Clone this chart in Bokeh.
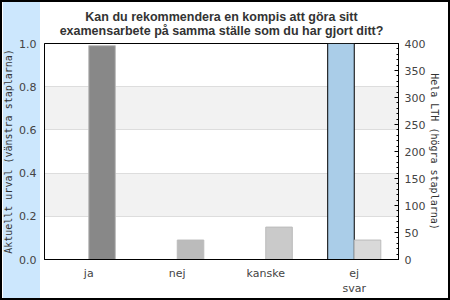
from bokeh.plotting import figure
from bokeh.models import (ColumnDataSource, FactorRange, Range1d, LinearAxis,
                          SingleIntervalTicker, PrintfTickFormatter)
from bokeh.transform import dodge
from bokeh.embed import file_html
from bokeh.resources import INLINE

# ---- data ----
categories = ["ja", "nej", "kanske", "ej\nsvar"]
aktuellt_urval = [0.0, 0.0, 0.0, 1.0]      # left axis (share)
hela_lth = [396, 36, 60, 36]               # right axis (count)
hela_colors = ["#888888", "#bbbbbb", "#cacaca", "#d9d9d9"]

title_lines = ["Kan du rekommendera en kompis att göra sitt",
               "examensarbete på samma ställe som du har gjort ditt?"]
left_label = "Aktuellt urval (vänstra staplarna)"
right_label = "Hela LTH (högra staplarna)"

src = ColumnDataSource(dict(cat=categories, akt=aktuellt_urval,
                            hela=hela_lth, col=hela_colors))

p = figure(width=450, height=300, output_backend="svg", toolbar_location=None,
           x_range=FactorRange(*categories, range_padding=0),
           y_range=Range1d(0, 1),
           min_border_left=40, min_border_right=52,
           min_border_top=43, min_border_bottom=41)
p.extra_y_ranges = {"right": Range1d(0, 400)}

p.border_fill_color = None
p.background_fill_color = "white"
p.outline_line_color = "black"
p.outline_line_width = 1
p.styles = {
    "background": "linear-gradient(to right, #ffffff 0px, #ffffff 3px, #cce7fd 3px, #cce7fd 40px, #ffffff 40px)",
    "box-shadow": "inset 0 0 0 2px black",
}

p.title.text = "\n".join(title_lines)
p.title.align = "center"
p.title.text_align = "center"
p.title.offset = 5
p.title.text_font = "Liberation Sans"
p.title.text_font_size = "12.5px"
p.title.text_font_style = "bold"
p.title.text_color = "#333333"
p.title.standoff = 12

# bars
p.vbar(x=dodge("cat", -0.15, range=p.x_range), top="akt", width=0.3, source=src,
       fill_color="#aacde8", line_color="black", line_width=1)
p.vbar(x=dodge("cat", 0.15, range=p.x_range), top="hela", width=0.3, source=src,
       fill_color="col", line_color="#bbbbbb", line_width=1, y_range_name="right")

# grid
p.xgrid.visible = False
p.ygrid.grid_line_color = "#dddddd"
p.ygrid.band_fill_color = "#f2f2f2"
p.ygrid.band_fill_alpha = 1.0

# left axis
ly = p.yaxis[0]
ly.ticker = SingleIntervalTicker(interval=0.2, num_minor_ticks=0)
ly.formatter = PrintfTickFormatter(format="%.1f")
ly.major_tick_in = 0
ly.major_tick_out = 0
ly.minor_tick_in = 0
ly.minor_tick_out = 0
ly.major_label_standoff = 8
ly.major_label_text_font = "DejaVu Sans"
ly.major_label_text_font_size = "11px"
ly.major_label_text_color = "#444444"
ly.axis_label = left_label
ly.axis_label_text_font = "DejaVu Sans Mono"
ly.axis_label_text_font_size = "10px"
ly.axis_label_text_font_style = "normal"
ly.axis_label_text_color = "#333333"
ly.axis_label_standoff = 2
ly.axis_line_color = "black"

# right axis
ry = LinearAxis(y_range_name="right",
                ticker=SingleIntervalTicker(interval=50, num_minor_ticks=5))
ry.major_tick_in = 4
ry.major_tick_out = 0
ry.minor_tick_in = 2
ry.minor_tick_out = 0
ry.major_label_standoff = 6
ry.major_label_text_font = "DejaVu Sans"
ry.major_label_text_font_size = "11px"
ry.major_label_text_color = "#444444"
ry.axis_label = right_label
ry.axis_label_text_font = "DejaVu Sans Mono"
ry.axis_label_text_font_size = "10px"
ry.axis_label_text_font_style = "normal"
ry.axis_label_text_color = "#333333"
ry.axis_label_standoff = 1
ry.axis_line_color = "black"
p.add_layout(ry, "right")

# x axis
xa = p.xaxis[0]
xa.major_tick_in = 0
xa.major_tick_out = 0
xa.major_label_standoff = 7
xa.major_label_text_font = "DejaVu Sans"
xa.major_label_text_font_size = "11px"
xa.major_label_text_color = "#444444"
xa.axis_line_color = "black"

open("out.html", "w").write(file_html(p, INLINE))
